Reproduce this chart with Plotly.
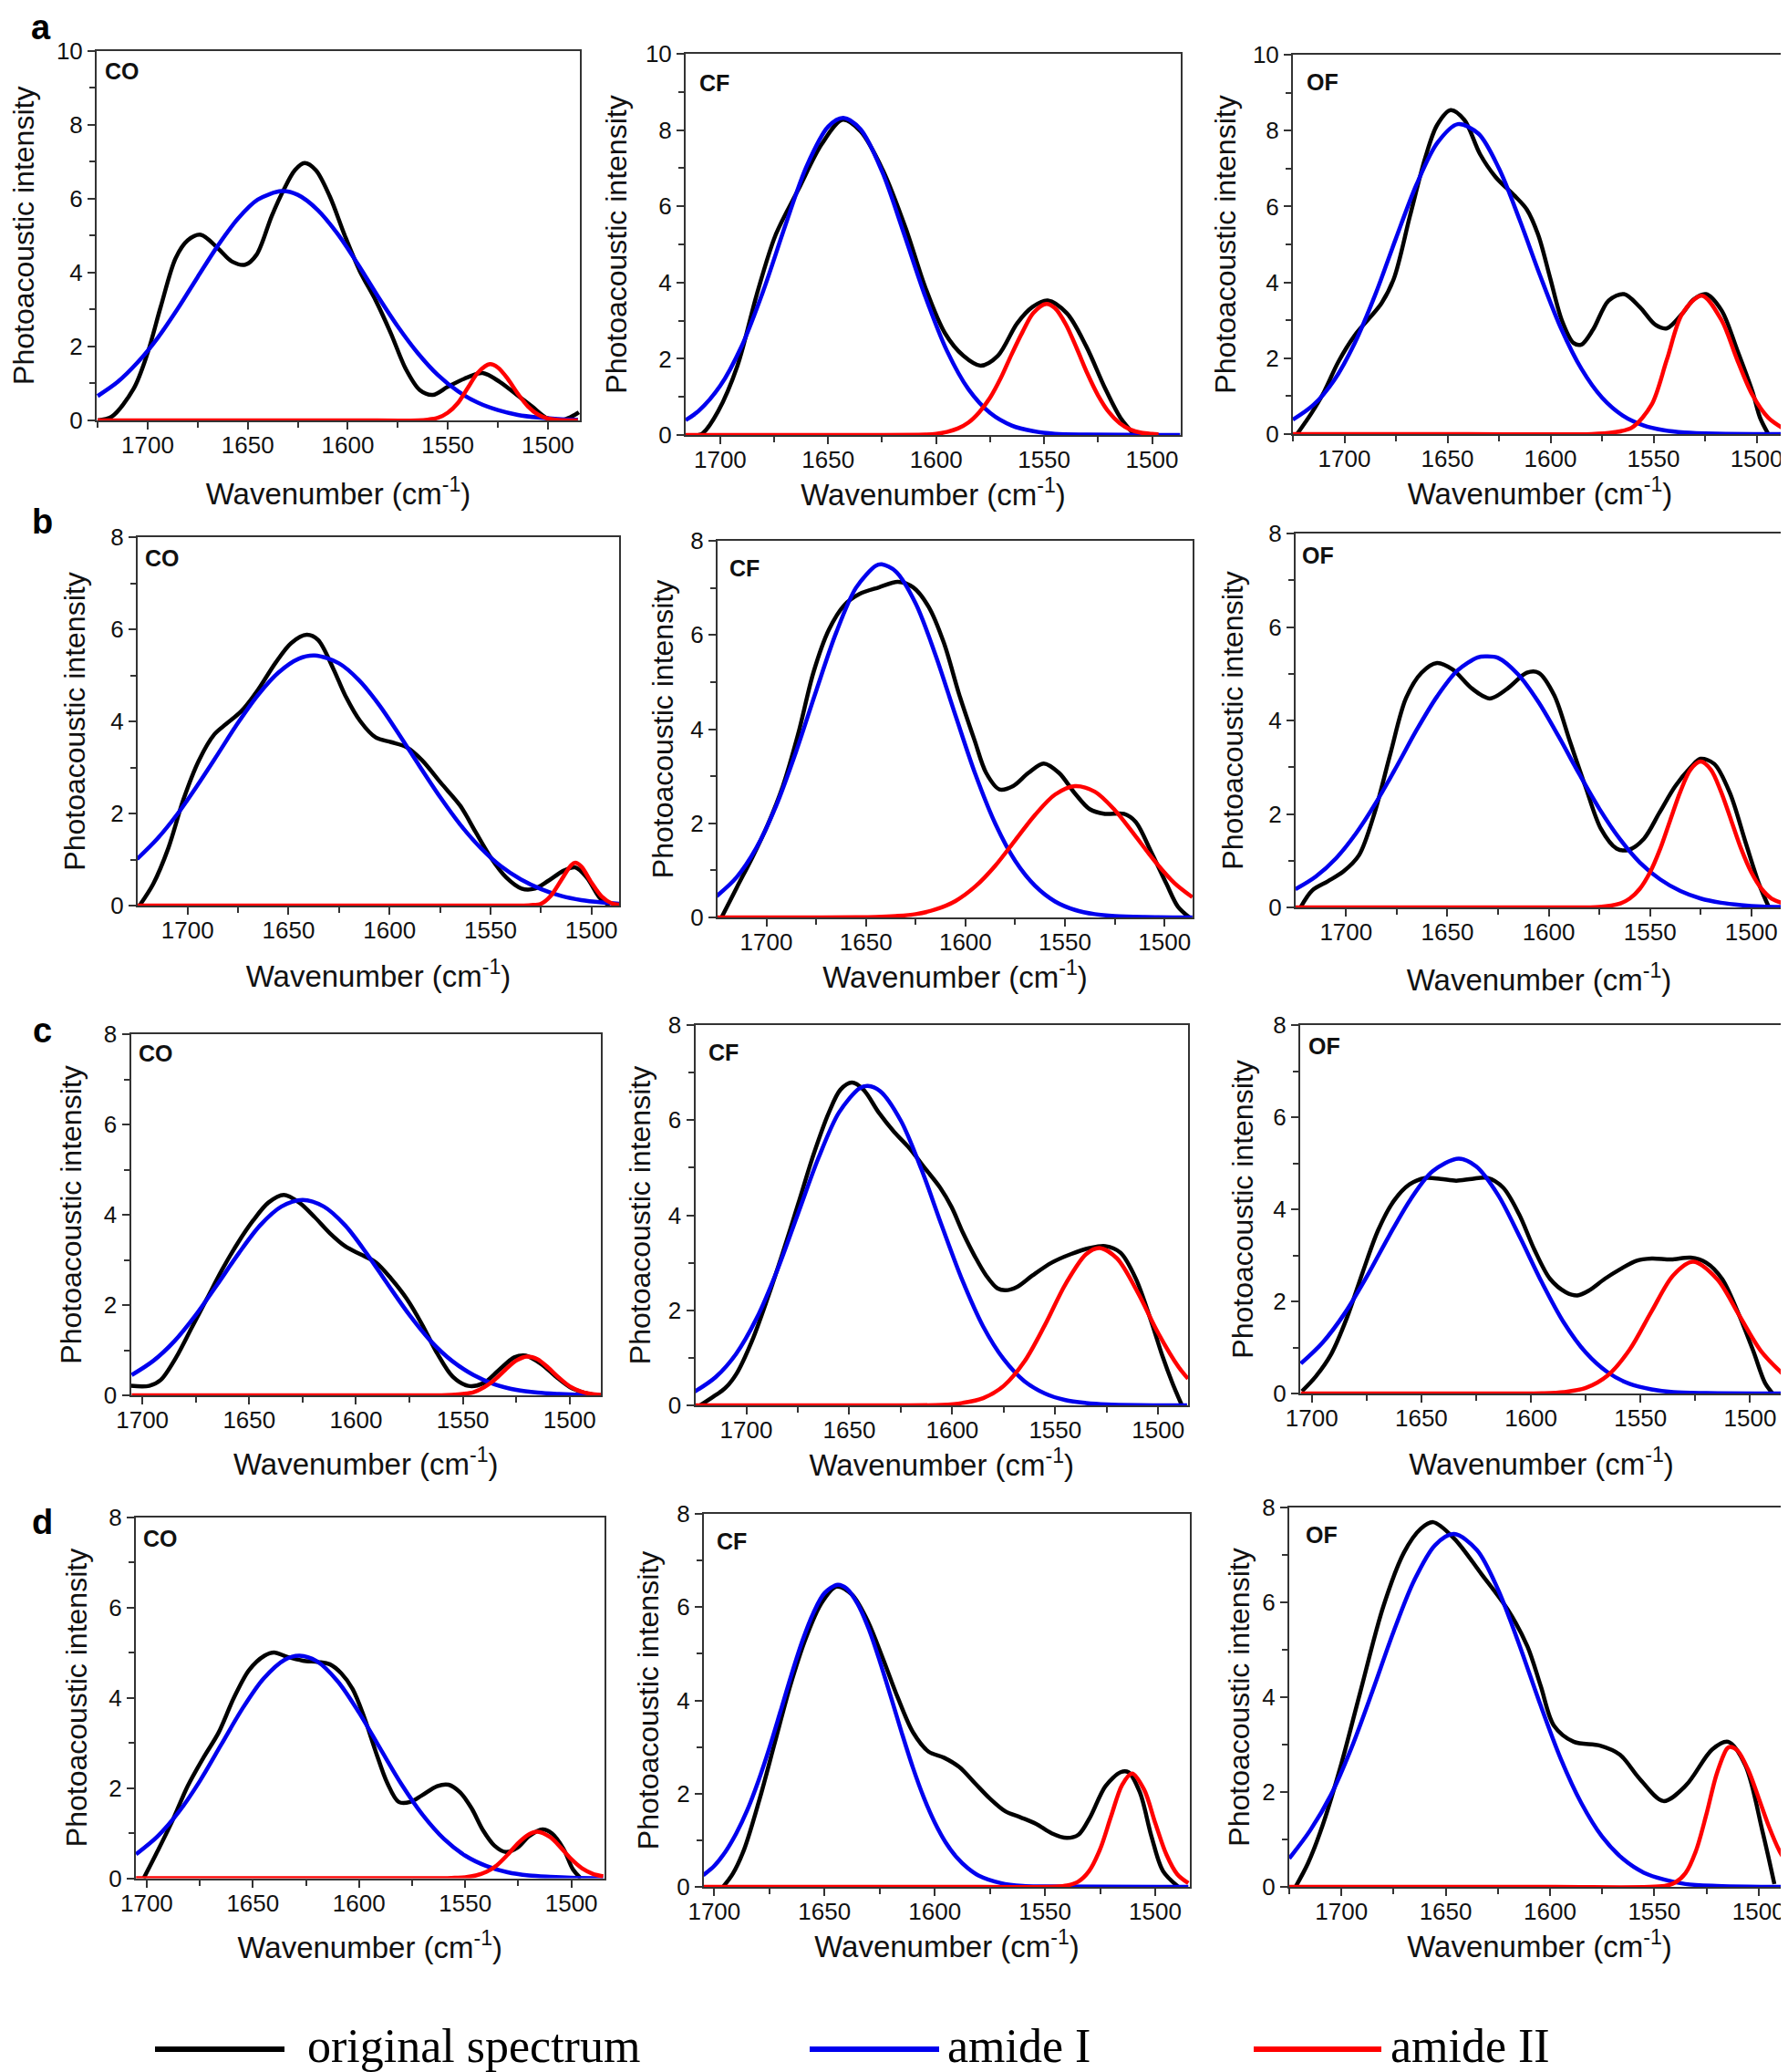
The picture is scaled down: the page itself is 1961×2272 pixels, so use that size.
import plotly.graph_objects as go

W, H = 1961, 2272

# ---------------- data (wavenumber in cm-1, photoacoustic intensity) ----------------
# a / CO
a_co_orig_x = [1725, 1718, 1707, 1700, 1693.5, 1686, 1680, 1673.4, 1664.8, 1658, 1651.3, 1645.6, 1638, 1632, 1626.4, 1621.6, 1616, 1609, 1601.5, 1594, 1586, 1578.5, 1571, 1564, 1557.5, 1550, 1540, 1532.6, 1524, 1515.5, 1508, 1500, 1492, 1486.6, 1484.5]
a_co_orig_y = [0, 0.1, 0.86, 1.83, 3.07, 4.39, 4.87, 5.02, 4.65, 4.3, 4.21, 4.48, 5.53, 6.24, 6.77, 6.96, 6.77, 6.06, 5.0, 4.04, 3.24, 2.36, 1.39, 0.82, 0.69, 0.91, 1.17, 1.28, 1.04, 0.69, 0.38, 0.05, 0.02, 0.15, 0.22]
a_co_am1_x = [1725, 1715, 1705, 1695, 1685, 1675, 1665, 1655, 1645, 1633, 1625, 1615, 1605, 1595, 1585, 1575, 1565, 1555, 1545, 1535, 1525, 1515, 1505, 1495, 1485]
a_co_am1_y = [0.66, 1.04, 1.57, 2.23, 3.02, 3.88, 4.72, 5.45, 5.97, 6.2, 6.1, 5.69, 5.04, 4.23, 3.36, 2.54, 1.82, 1.23, 0.79, 0.48, 0.28, 0.15, 0.08, 0.04, 0.02]
a_co_am2_x = [1725, 1600, 1565, 1560, 1555, 1550, 1545, 1540, 1535, 1529, 1525, 1520, 1515, 1510, 1505, 1500, 1495, 1485]
a_co_am2_y = [0, 0, 0, 0.02, 0.07, 0.21, 0.47, 0.88, 1.29, 1.52, 1.43, 1.12, 0.72, 0.38, 0.16, 0.05, 0.01, 0]

# a / CF
a_cf_orig_x = [1710, 1708, 1701, 1692, 1683, 1674.4, 1663.8, 1653, 1643.3, 1635, 1624.7, 1614, 1605, 1596, 1587.4, 1579.4, 1571.4, 1562.5, 1555.4, 1548.3, 1539.4, 1530.5, 1521.7, 1514.6, 1508]
a_cf_orig_y = [0, 0.05, 0.62, 1.82, 3.7, 5.24, 6.44, 7.63, 8.27, 7.97, 6.95, 5.41, 3.87, 2.68, 2.08, 1.82, 2.08, 2.93, 3.36, 3.53, 3.19, 2.33, 1.22, 0.45, 0]
a_cf_am1_x = [1716, 1710, 1700, 1690, 1680, 1670, 1660, 1650, 1643, 1635, 1625, 1615, 1605, 1595, 1585, 1575, 1565, 1555, 1545, 1530, 1487]
a_cf_am1_y = [0.39, 0.63, 1.29, 2.34, 3.79, 5.47, 7.05, 8.09, 8.32, 8.02, 6.91, 5.3, 3.63, 2.21, 1.2, 0.58, 0.25, 0.1, 0.03, 0.01, 0]
a_cf_am2_x = [1716, 1640, 1605, 1600, 1595, 1590, 1585, 1580, 1575, 1570, 1565, 1560, 1555, 1549, 1545, 1540, 1535, 1530, 1525, 1520, 1515, 1510, 1505, 1500, 1497]
a_cf_am2_y = [0, 0, 0.01, 0.03, 0.08, 0.17, 0.33, 0.6, 0.98, 1.5, 2.12, 2.7, 3.2, 3.44, 3.33, 2.91, 2.29, 1.62, 1.04, 0.6, 0.31, 0.14, 0.06, 0.03, 0.02]

# a / OF
a_of_orig_x = [1723, 1716, 1710, 1703, 1695, 1688, 1682, 1676, 1668.2, 1660.7, 1655, 1648.4, 1641.8, 1634.2, 1626.7, 1617.2, 1611.5, 1605.9, 1600.2, 1594.5, 1588.8, 1585, 1579.4, 1571.8, 1564.3, 1556.7, 1549.1, 1543.5, 1536, 1530.5, 1524.6, 1517, 1509.5, 1502, 1498.3, 1494.3]
a_of_orig_y = [0, 0.55, 1.1, 1.9, 2.6, 3.05, 3.45, 4.1, 5.75, 7.3, 8.15, 8.54, 8.28, 7.38, 6.78, 6.27, 5.92, 5.24, 4.12, 3.0, 2.4, 2.36, 2.75, 3.52, 3.69, 3.35, 2.88, 2.79, 3.18, 3.55, 3.69, 3.26, 2.23, 1.12, 0.43, 0]
a_of_am1_x = [1725, 1715, 1705, 1695, 1685, 1675, 1665, 1655, 1645, 1635, 1625, 1615, 1605, 1595, 1585, 1575, 1565, 1555, 1545, 1535, 1520, 1500, 1485]
a_of_am1_y = [0.38, 0.77, 1.42, 2.4, 3.68, 5.16, 6.58, 7.67, 8.17, 7.92, 7.0, 5.65, 4.17, 2.8, 1.72, 0.96, 0.49, 0.23, 0.1, 0.04, 0.01, 0, 0]
a_of_am2_x = [1725, 1640, 1580, 1570, 1560.5, 1551, 1543.5, 1536, 1526.5, 1517, 1509.5, 1502, 1494.3, 1485.2]
a_of_am2_y = [0, 0, 0, 0.04, 0.17, 0.77, 1.97, 3.18, 3.65, 3.0, 1.97, 1.03, 0.43, 0.09]

# b / CO
b_co_orig_x = [1723.8, 1717, 1709.5, 1702, 1694.3, 1686.7, 1681, 1673.4, 1665.8, 1656.3, 1648.7, 1641, 1635.4, 1627.8, 1622, 1614.4, 1606.8, 1599.2, 1591.6, 1584, 1574.5, 1565, 1557.4, 1549.8, 1542.2, 1534.6, 1528, 1521.3, 1513.7, 1508, 1502.3, 1495.7, 1491]
b_co_orig_y = [0, 0.47, 1.25, 2.31, 3.16, 3.72, 3.94, 4.22, 4.64, 5.28, 5.7, 5.88, 5.77, 5.14, 4.57, 4.0, 3.65, 3.55, 3.44, 3.16, 2.66, 2.17, 1.6, 1.04, 0.61, 0.37, 0.37, 0.54, 0.76, 0.83, 0.61, 0.16, 0]
b_co_am1_x = [1725, 1715, 1705, 1695, 1685, 1675, 1665, 1655, 1645, 1637, 1625, 1615, 1605, 1595, 1585, 1575, 1565, 1555, 1545, 1535, 1525, 1515, 1505, 1495, 1486]
b_co_am1_y = [1.01, 1.45, 1.99, 2.62, 3.29, 3.97, 4.58, 5.06, 5.36, 5.43, 5.26, 4.89, 4.35, 3.7, 3.02, 2.36, 1.76, 1.26, 0.86, 0.57, 0.36, 0.21, 0.12, 0.07, 0.04]
b_co_am2_x = [1725, 1600, 1535, 1530, 1525, 1520, 1515, 1510, 1508, 1505, 1500, 1495, 1490, 1486]
b_co_am2_y = [0, 0, 0, 0.01, 0.04, 0.22, 0.55, 0.88, 0.93, 0.85, 0.5, 0.2, 0.05, 0.02]

# b / CF
b_cf_orig_x = [1722.5, 1714.8, 1707.1, 1699.4, 1691.7, 1684, 1676.3, 1668.6, 1660.9, 1653.2, 1643.5, 1633.9, 1626.2, 1618.5, 1610.8, 1603.1, 1595.4, 1589.6, 1582.9, 1576.1, 1568.4, 1560.7, 1553, 1545.3, 1537.6, 1529.9, 1520.4, 1514.5, 1506.8, 1499, 1493.3, 1487.5]
b_cf_orig_y = [0, 0.64, 1.27, 1.96, 2.79, 3.9, 5.21, 6.11, 6.63, 6.87, 7.01, 7.13, 7.01, 6.6, 5.83, 4.73, 3.76, 3.07, 2.72, 2.79, 3.07, 3.27, 3.07, 2.65, 2.3, 2.2, 2.2, 2.03, 1.4, 0.71, 0.23, 0]
b_cf_am1_x = [1725, 1715, 1705, 1695, 1685, 1675, 1665, 1655, 1645, 1642, 1635, 1625, 1615, 1605, 1595, 1585, 1575, 1565, 1555, 1545, 1535, 1525, 1510, 1486]
b_cf_am1_y = [0.45, 0.85, 1.48, 2.38, 3.53, 4.81, 6.04, 7.0, 7.47, 7.5, 7.35, 6.67, 5.57, 4.29, 3.04, 1.99, 1.2, 0.67, 0.34, 0.16, 0.07, 0.03, 0.01, 0]
b_cf_am2_x = [1725, 1680, 1655, 1645, 1635, 1625, 1615, 1605, 1595, 1585, 1575, 1565, 1555, 1545, 1535, 1525, 1515, 1505, 1495, 1486]
b_cf_am2_y = [0, 0, 0.003, 0.01, 0.03, 0.07, 0.17, 0.35, 0.66, 1.1, 1.64, 2.18, 2.61, 2.79, 2.67, 2.28, 1.75, 1.2, 0.73, 0.43]

# b / OF
b_of_orig_x = [1722.5, 1716.8, 1709, 1701.3, 1693.6, 1685.9, 1678.2, 1670.5, 1662.8, 1655.1, 1647.4, 1637.8, 1629.1, 1620.4, 1610.8, 1605, 1597.3, 1589.6, 1581.9, 1574.2, 1566.5, 1560.7, 1553, 1545.3, 1537.6, 1529.9, 1525.1, 1518.3, 1510.6, 1502.9, 1496.1, 1491.3]
b_of_orig_y = [0, 0.36, 0.56, 0.77, 1.12, 2.03, 3.28, 4.47, 5.02, 5.23, 5.09, 4.68, 4.47, 4.68, 5.02, 5.02, 4.54, 3.56, 2.59, 1.68, 1.26, 1.23, 1.47, 2.03, 2.59, 3.0, 3.18, 3.07, 2.45, 1.4, 0.49, 0]
b_of_am1_x = [1725, 1715, 1705, 1695, 1685, 1675, 1665, 1655, 1645, 1635, 1631, 1625, 1615, 1605, 1595, 1585, 1575, 1565, 1555, 1545, 1535, 1525, 1515, 1505, 1495, 1485]
b_of_am1_y = [0.39, 0.66, 1.05, 1.59, 2.26, 3.02, 3.81, 4.52, 5.07, 5.35, 5.37, 5.34, 4.98, 4.39, 3.65, 2.86, 2.11, 1.47, 0.96, 0.6, 0.35, 0.19, 0.1, 0.05, 0.02, 0.01]
b_of_am2_x = [1725, 1600, 1575, 1565, 1560, 1555, 1550, 1545, 1540, 1535, 1530, 1525, 1520, 1515, 1510, 1505, 1500, 1495, 1490, 1485]
b_of_am2_y = [0, 0, 0.01, 0.08, 0.19, 0.4, 0.75, 1.25, 1.87, 2.48, 2.95, 3.12, 2.95, 2.48, 1.87, 1.25, 0.75, 0.4, 0.19, 0.1]

# c / CO
c_co_orig_x = [1705.4, 1696.8, 1691.4, 1684.2, 1677, 1669.8, 1662.6, 1655.4, 1648.2, 1641, 1633.8, 1626.6, 1619.4, 1612.2, 1605, 1597.8, 1590.6, 1583.5, 1576.3, 1569.1, 1561.9, 1554.7, 1547.5, 1540.3, 1533.1, 1525.9, 1520.5, 1513.5, 1506.3, 1499.1, 1491.9, 1486.5]
c_co_orig_y = [0.21, 0.21, 0.34, 0.84, 1.49, 2.14, 2.79, 3.37, 3.87, 4.27, 4.44, 4.27, 3.95, 3.59, 3.3, 3.12, 2.94, 2.58, 2.14, 1.57, 0.92, 0.41, 0.21, 0.27, 0.56, 0.84, 0.88, 0.7, 0.41, 0.16, 0.04, 0]
c_co_am1_x = [1705, 1695, 1685, 1675, 1665, 1655, 1645, 1635, 1625, 1615, 1605, 1595, 1585, 1575, 1565, 1555, 1545, 1535, 1525, 1515, 1505, 1495, 1485]
c_co_am1_y = [0.45, 0.76, 1.2, 1.78, 2.45, 3.14, 3.76, 4.18, 4.33, 4.18, 3.76, 3.14, 2.45, 1.78, 1.2, 0.76, 0.45, 0.24, 0.12, 0.06, 0.03, 0.01, 0]
c_co_am2_x = [1705, 1600, 1560, 1555, 1550, 1545, 1540, 1535, 1530, 1525, 1520, 1515, 1510, 1505, 1500, 1495, 1490, 1485]
c_co_am2_y = [0, 0, 0, 0.01, 0.03, 0.07, 0.18, 0.35, 0.57, 0.77, 0.86, 0.8, 0.61, 0.39, 0.2, 0.09, 0.03, 0.01]

# c / CF
c_cf_orig_x = [1722.4, 1715.8, 1710.3, 1704.7, 1697.2, 1689.7, 1682.3, 1674.8, 1667.4, 1659.9, 1654.3, 1648.7, 1643.1, 1635.7, 1628.2, 1620.8, 1613.3, 1605.9, 1600.3, 1594.7, 1589.1, 1583.5, 1578, 1574.2, 1568.6, 1561.1, 1551.8, 1542.5, 1533.2, 1525.7, 1518.3, 1510.8, 1503.4, 1497.8, 1493.1, 1488.5]
c_cf_orig_y = [0, 0.19, 0.36, 0.67, 1.36, 2.25, 3.21, 4.24, 5.27, 6.16, 6.64, 6.79, 6.64, 6.16, 5.75, 5.41, 4.99, 4.58, 4.17, 3.62, 3.14, 2.73, 2.46, 2.42, 2.49, 2.73, 3.0, 3.18, 3.31, 3.35, 3.21, 2.66, 1.77, 1.02, 0.47, 0]
c_cf_am1_x = [1725, 1715, 1705, 1695, 1685, 1675, 1665, 1655, 1645, 1641, 1635, 1625, 1615, 1605, 1595, 1585, 1575, 1565, 1555, 1545, 1535, 1525, 1510, 1486]
c_cf_am1_y = [0.29, 0.59, 1.08, 1.83, 2.84, 4.02, 5.2, 6.16, 6.67, 6.72, 6.61, 5.99, 4.97, 3.77, 2.62, 1.66, 0.97, 0.51, 0.25, 0.11, 0.05, 0.02, 0.005, 0]
c_cf_am2_x = [1725, 1640, 1605, 1595, 1585, 1575, 1565, 1555, 1545, 1535, 1528.5, 1520, 1510, 1500, 1490, 1485.5]
c_cf_am2_y = [0, 0, 0.01, 0.05, 0.15, 0.41, 0.92, 1.69, 2.55, 3.18, 3.31, 3.09, 2.38, 1.52, 0.8, 0.56]

# c / OF
c_of_orig_x = [1704.5, 1698.2, 1691.1, 1684, 1676.8, 1669.7, 1662.6, 1655.4, 1648.3, 1641.2, 1634.1, 1627, 1619.8, 1612.7, 1605.5, 1598.4, 1591.3, 1584.1, 1578.8, 1573.4, 1566.3, 1559.2, 1552, 1544.9, 1536, 1527.1, 1520, 1512.8, 1505.7, 1498.6, 1493.2, 1489.7]
c_of_orig_y = [0.05, 0.37, 0.86, 1.64, 2.63, 3.55, 4.18, 4.54, 4.68, 4.66, 4.62, 4.66, 4.68, 4.47, 3.9, 3.12, 2.49, 2.2, 2.13, 2.24, 2.49, 2.7, 2.88, 2.93, 2.91, 2.95, 2.84, 2.49, 1.78, 0.93, 0.23, 0]
c_of_am1_x = [1705, 1695, 1685, 1675, 1665, 1655, 1645, 1633, 1625, 1615, 1605, 1595, 1585, 1575, 1565, 1555, 1545, 1535, 1520, 1485]
c_of_am1_y = [0.65, 1.11, 1.74, 2.53, 3.4, 4.21, 4.82, 5.1, 4.93, 4.31, 3.39, 2.41, 1.54, 0.89, 0.46, 0.21, 0.09, 0.03, 0.01, 0]
c_of_am2_x = [1705, 1620, 1595, 1585, 1575, 1565, 1555, 1545, 1535, 1526, 1515, 1505, 1495, 1485]
c_of_am2_y = [0, 0, 0.005, 0.03, 0.12, 0.39, 0.95, 1.78, 2.57, 2.86, 2.48, 1.7, 0.92, 0.42]

# d / CO
d_co_orig_x = [1701.4, 1695.1, 1687.9, 1680.7, 1673.4, 1666.2, 1659, 1651.8, 1644.5, 1640, 1633.7, 1626.5, 1619.2, 1613.8, 1608.4, 1603, 1597.6, 1592.1, 1586.7, 1581.3, 1575.9, 1570.5, 1563.2, 1557.8, 1552.4, 1547, 1541.6, 1536.2, 1530.8, 1525.3, 1519.9, 1513.6, 1509.1, 1503.7, 1499.2, 1495.6]
d_co_orig_y = [0, 0.58, 1.27, 2.04, 2.66, 3.22, 3.99, 4.61, 4.93, 5.0, 4.9, 4.82, 4.79, 4.74, 4.54, 4.19, 3.57, 2.8, 2.11, 1.69, 1.69, 1.83, 2.04, 2.07, 1.9, 1.55, 1.06, 0.72, 0.58, 0.68, 0.93, 1.08, 0.99, 0.65, 0.19, 0]
d_co_am1_x = [1705, 1695, 1685, 1675, 1665, 1655, 1645, 1635, 1628, 1620, 1610, 1600, 1590, 1580, 1570, 1560, 1550, 1540, 1530, 1520, 1510, 1500, 1485]
d_co_am1_y = [0.53, 0.92, 1.46, 2.15, 2.95, 3.75, 4.42, 4.84, 4.93, 4.81, 4.36, 3.67, 2.87, 2.08, 1.4, 0.87, 0.5, 0.27, 0.13, 0.06, 0.03, 0.01, 0]
d_co_am2_x = [1705, 1600, 1560, 1555, 1550, 1545, 1540, 1535, 1530, 1525, 1520, 1516, 1510, 1505, 1500, 1495, 1490, 1485]
d_co_am2_y = [0, 0, 0, 0.01, 0.02, 0.06, 0.14, 0.29, 0.52, 0.78, 0.97, 1.03, 0.91, 0.68, 0.42, 0.22, 0.1, 0.04]

# d / CF
d_cf_orig_x = [1696, 1691.6, 1686.4, 1679.4, 1672.5, 1665.5, 1658.5, 1651.6, 1644.6, 1637.6, 1630.7, 1623.7, 1616.7, 1609.8, 1602.8, 1595.8, 1588.9, 1581.9, 1574.9, 1568, 1561, 1554, 1547, 1540.1, 1534.8, 1529.6, 1522.6, 1515.7, 1512.2, 1507, 1501.7, 1496.5, 1489.5]
d_cf_orig_y = [0, 0.28, 0.81, 1.89, 3.1, 4.32, 5.33, 6.07, 6.44, 6.27, 5.73, 4.92, 4.05, 3.31, 2.9, 2.77, 2.57, 2.23, 1.89, 1.62, 1.49, 1.35, 1.15, 1.05, 1.12, 1.49, 2.16, 2.46, 2.46, 2.03, 1.08, 0.34, 0]
d_cf_am1_x = [1705, 1700, 1695, 1690, 1685, 1680, 1675, 1670, 1665, 1660, 1655, 1650, 1644, 1640, 1635, 1630, 1625, 1620, 1615, 1610, 1605, 1600, 1595, 1590, 1585, 1580, 1570, 1560, 1550, 1485]
d_cf_am1_y = [0.25, 0.45, 0.75, 1.15, 1.65, 2.27, 2.98, 3.76, 4.55, 5.28, 5.88, 6.3, 6.48, 6.4, 6.07, 5.54, 4.85, 4.09, 3.31, 2.57, 1.92, 1.38, 0.95, 0.63, 0.4, 0.24, 0.08, 0.02, 0.01, 0]
d_cf_am2_x = [1705, 1600, 1545, 1540, 1535, 1530, 1525, 1520, 1515, 1510.5, 1505, 1500, 1495, 1490, 1485]
d_cf_am2_y = [0, 0, 0.005, 0.03, 0.11, 0.34, 0.81, 1.52, 2.19, 2.43, 2.08, 1.37, 0.7, 0.27, 0.08]

# d / OF
d_of_orig_x = [1722, 1716, 1709, 1700, 1691, 1680, 1670, 1662, 1656, 1646, 1632.9, 1620.3, 1610.8, 1604.4, 1598.1, 1588.6, 1576, 1566.5, 1557, 1545.6, 1534.8, 1522.2, 1514.6, 1506.3, 1498.1, 1492.4]
d_of_orig_y = [0, 0.5, 1.3, 2.6, 4.1, 5.9, 7.05, 7.55, 7.69, 7.35, 6.6, 5.85, 5.07, 4.23, 3.4, 3.06, 2.98, 2.79, 2.28, 1.81, 2.14, 2.9, 3.06, 2.56, 1.17, 0.06]
d_of_am1_x = [1725, 1715, 1705, 1695, 1685, 1675, 1665, 1655, 1646, 1635, 1625, 1615, 1605, 1595, 1585, 1575, 1565, 1555, 1545, 1535, 1520, 1505, 1485]
d_of_am1_y = [0.6, 1.19, 1.94, 2.95, 4.14, 5.38, 6.47, 7.21, 7.44, 7.1, 6.28, 5.14, 3.89, 2.72, 1.77, 1.06, 0.59, 0.3, 0.15, 0.06, 0.02, 0.005, 0]
d_of_am2_x = [1725, 1600, 1545, 1540, 1535, 1530, 1525, 1520, 1515, 1513.5, 1510, 1505, 1500, 1495, 1490, 1485]
d_of_am2_y = [0, 0, 0.02, 0.09, 0.29, 0.76, 1.53, 2.39, 2.92, 2.95, 2.87, 2.47, 1.88, 1.27, 0.76, 0.4]

row_letters = ["a", "b", "c", "d"]
sample_names = ["CO", "CF", "OF"]
legend_names = ["original spectrum", "amide I", "amide II"]
x_title = "Wavenumber (cm<sup>-1</sup>)"
y_title = "Photoacoustic intensity"

# ---------------- layout (pixel geometry of each panel) ----------------
# key, (left, right, top, bottom) px, x-range, y-max, label (dx, dy-centre), x-title standoff, y-title standoff
panels = [
    ("a_co", (98, 628, 47.5, 453), (1725.5, 1484), 10, (10.6, 25), 28, 19),
    ("a_cf", (744, 1287, 51, 469), (1716, 1486.7), 10, (16, 34), 2, 11),
    ("a_of", (1410, 1952, 52, 468), (1725, 1485.2), 10, (16, 31.5), 2, 9),
    ("b_co", (143, 671, 581, 985), (1724.7, 1486.3), 8, (9, 25), 25, 18),
    ("b_cf", (779, 1300, 585, 998), (1724.5, 1485.9), 8, (14.7, 31.8), 1, 9),
    ("b_of", (1413, 1947, 577, 987), (1724.9, 1484.6), 8, (8.6, 26), 27, 18),
    ("c_co", (135.5, 651, 1126, 1522), (1705.4, 1485.4), 8, (9.7, 23), 23, 15),
    ("c_cf", (754.5, 1295, 1116, 1533), (1724.8, 1485.5), 8, (16, 32), 1, 10),
    ("c_of", (1418, 1947, 1116, 1520), (1705.3, 1485.2), 8, (10.7, 25), 25, 12),
    ("d_co", (141, 654.5, 1655.5, 2051.5), (1705.1, 1484.6), 8, (9.7, 25.6), 23, 14),
    ("d_cf", (764, 1297, 1652, 2061), (1704.7, 1484.3), 8, (15, 31.5), 3, 10),
    ("d_of", (1406, 1955, 1645, 2061), (1725, 1485), 8, (19, 31.5), 3, 4),
]

data = {
    "a_co": (a_co_orig_x, a_co_orig_y, a_co_am1_x, a_co_am1_y, a_co_am2_x, a_co_am2_y),
    "a_cf": (a_cf_orig_x, a_cf_orig_y, a_cf_am1_x, a_cf_am1_y, a_cf_am2_x, a_cf_am2_y),
    "a_of": (a_of_orig_x, a_of_orig_y, a_of_am1_x, a_of_am1_y, a_of_am2_x, a_of_am2_y),
    "b_co": (b_co_orig_x, b_co_orig_y, b_co_am1_x, b_co_am1_y, b_co_am2_x, b_co_am2_y),
    "b_cf": (b_cf_orig_x, b_cf_orig_y, b_cf_am1_x, b_cf_am1_y, b_cf_am2_x, b_cf_am2_y),
    "b_of": (b_of_orig_x, b_of_orig_y, b_of_am1_x, b_of_am1_y, b_of_am2_x, b_of_am2_y),
    "c_co": (c_co_orig_x, c_co_orig_y, c_co_am1_x, c_co_am1_y, c_co_am2_x, c_co_am2_y),
    "c_cf": (c_cf_orig_x, c_cf_orig_y, c_cf_am1_x, c_cf_am1_y, c_cf_am2_x, c_cf_am2_y),
    "c_of": (c_of_orig_x, c_of_orig_y, c_of_am1_x, c_of_am1_y, c_of_am2_x, c_of_am2_y),
    "d_co": (d_co_orig_x, d_co_orig_y, d_co_am1_x, d_co_am1_y, d_co_am2_x, d_co_am2_y),
    "d_cf": (d_cf_orig_x, d_cf_orig_y, d_cf_am1_x, d_cf_am1_y, d_cf_am2_x, d_cf_am2_y),
    "d_of": (d_of_orig_x, d_of_orig_y, d_of_am1_x, d_of_am1_y, d_of_am2_x, d_of_am2_y),
}

FONT = "Liberation Sans, Arial, sans-serif"
AXC = "#333333"
colors = ["#000000", "#0000EE", "#FF0000"]

fig = go.Figure()
layout = dict(
    width=W, height=H,
    margin=dict(l=0, r=0, t=0, b=0),
    paper_bgcolor="white", plot_bgcolor="white",
    showlegend=False,
    font=dict(family=FONT, color="#111111"),
)
annotations = []
shapes = []


def px2x(p):
    return p / W


def px2y(p):
    return 1 - p / H


for i, (key, box, xr, ymax, loff, xso, yso) in enumerate(panels):
    n = i + 1
    xs = "" if n == 1 else str(n)
    l, r, t, b = box
    ox, oy, a1x, a1y, a2x, a2y = data[key]
    for (xx, yy, col, nm) in [(ox, oy, colors[0], legend_names[0]),
                              (a1x, a1y, colors[1], legend_names[1]),
                              (a2x, a2y, colors[2], legend_names[2])]:
        fig.add_trace(go.Scatter(
            x=xx, y=yy, mode="lines", name=nm,
            line=dict(color=col, width=4.5, shape="spline", smoothing=0.9),
            xaxis="x" + xs, yaxis="y" + xs, hoverinfo="skip",
        ))
    layout["xaxis" + xs] = dict(
        domain=[px2x(l), px2x(r)], anchor="y" + xs, range=list(xr),
        tick0=1500, dtick=50, ticks="outside", ticklen=8, tickwidth=1.5, tickcolor=AXC,
        minor=dict(dtick=25, tick0=1500, ticks="outside", ticklen=6, tickwidth=1.5, tickcolor=AXC),
        showline=True, linecolor=AXC, linewidth=2, mirror=True,
        showgrid=False, zeroline=False, ticklabelstandoff=-5,
        tickfont=dict(size=26, family=FONT, color="#111111"),
        title=dict(text=x_title, font=dict(size=33, family=FONT, color="#111111"), standoff=xso),
        automargin=False,
    )
    layout["yaxis" + xs] = dict(
        domain=[px2y(b), px2y(t)], anchor="x" + xs, range=[0, ymax],
        tick0=0, dtick=2, ticks="outside", ticklen=8, tickwidth=1.5, tickcolor=AXC,
        minor=dict(dtick=1, tick0=0, ticks="outside", ticklen=6, tickwidth=1.5, tickcolor=AXC),
        showline=True, linecolor=AXC, linewidth=2, mirror=True,
        showgrid=False, zeroline=False,
        tickfont=dict(size=26, family=FONT, color="#111111"),
        title=dict(text=y_title, font=dict(size=32, family=FONT, color="#111111"), standoff=yso),
        automargin=False,
    )
    # sample label inside the panel
    annotations.append(dict(
        text="<b>%s</b>" % sample_names[i % 3], xref="paper", yref="paper",
        x=px2x(l + loff[0] - 2.5), y=px2y(t + loff[1] - 2), xanchor="left", yanchor="middle",
        showarrow=False, borderpad=0, font=dict(size=25, family=FONT, color="#111111"),
    ))

# row letters
for letter, (cx, cy, anc) in zip(row_letters, [(37, 0, "top"), (38, 564, "middle"), (38, 1122, "middle"), (38, 1661, "middle")]):
    annotations.append(dict(
        text="<b>%s</b>" % letter, xref="paper", yref="paper",
        x=px2x(cx), y=px2y(cy), xanchor="center", yanchor=anc,
        showarrow=False, borderpad=0, font=dict(size=38, family=FONT, color="#000000"),
    ))

# bottom legend (line samples + serif labels)
leg_y = 2239
for (x0, x1, tx), col, nm in zip([(162, 304, 328), (880, 1022, 1030), (1367, 1507, 1516)], colors, legend_names):
    shapes.append(dict(type="line", xref="paper", yref="paper",
                       x0=px2x(x0), x1=px2x(x1), y0=px2y(leg_y), y1=px2y(leg_y),
                       line=dict(color=col, width=6)))
    annotations.append(dict(
        text=nm, xref="paper", yref="paper", x=px2x(tx), y=px2y(leg_y - 4),
        xanchor="left", yanchor="middle", showarrow=False, borderpad=0,
        font=dict(size=52, family="Liberation Serif, Times New Roman, serif", color="#000000"),
    ))

layout["annotations"] = annotations
layout["shapes"] = shapes
fig.update_layout(**layout)
fig.write_html("out.html")
